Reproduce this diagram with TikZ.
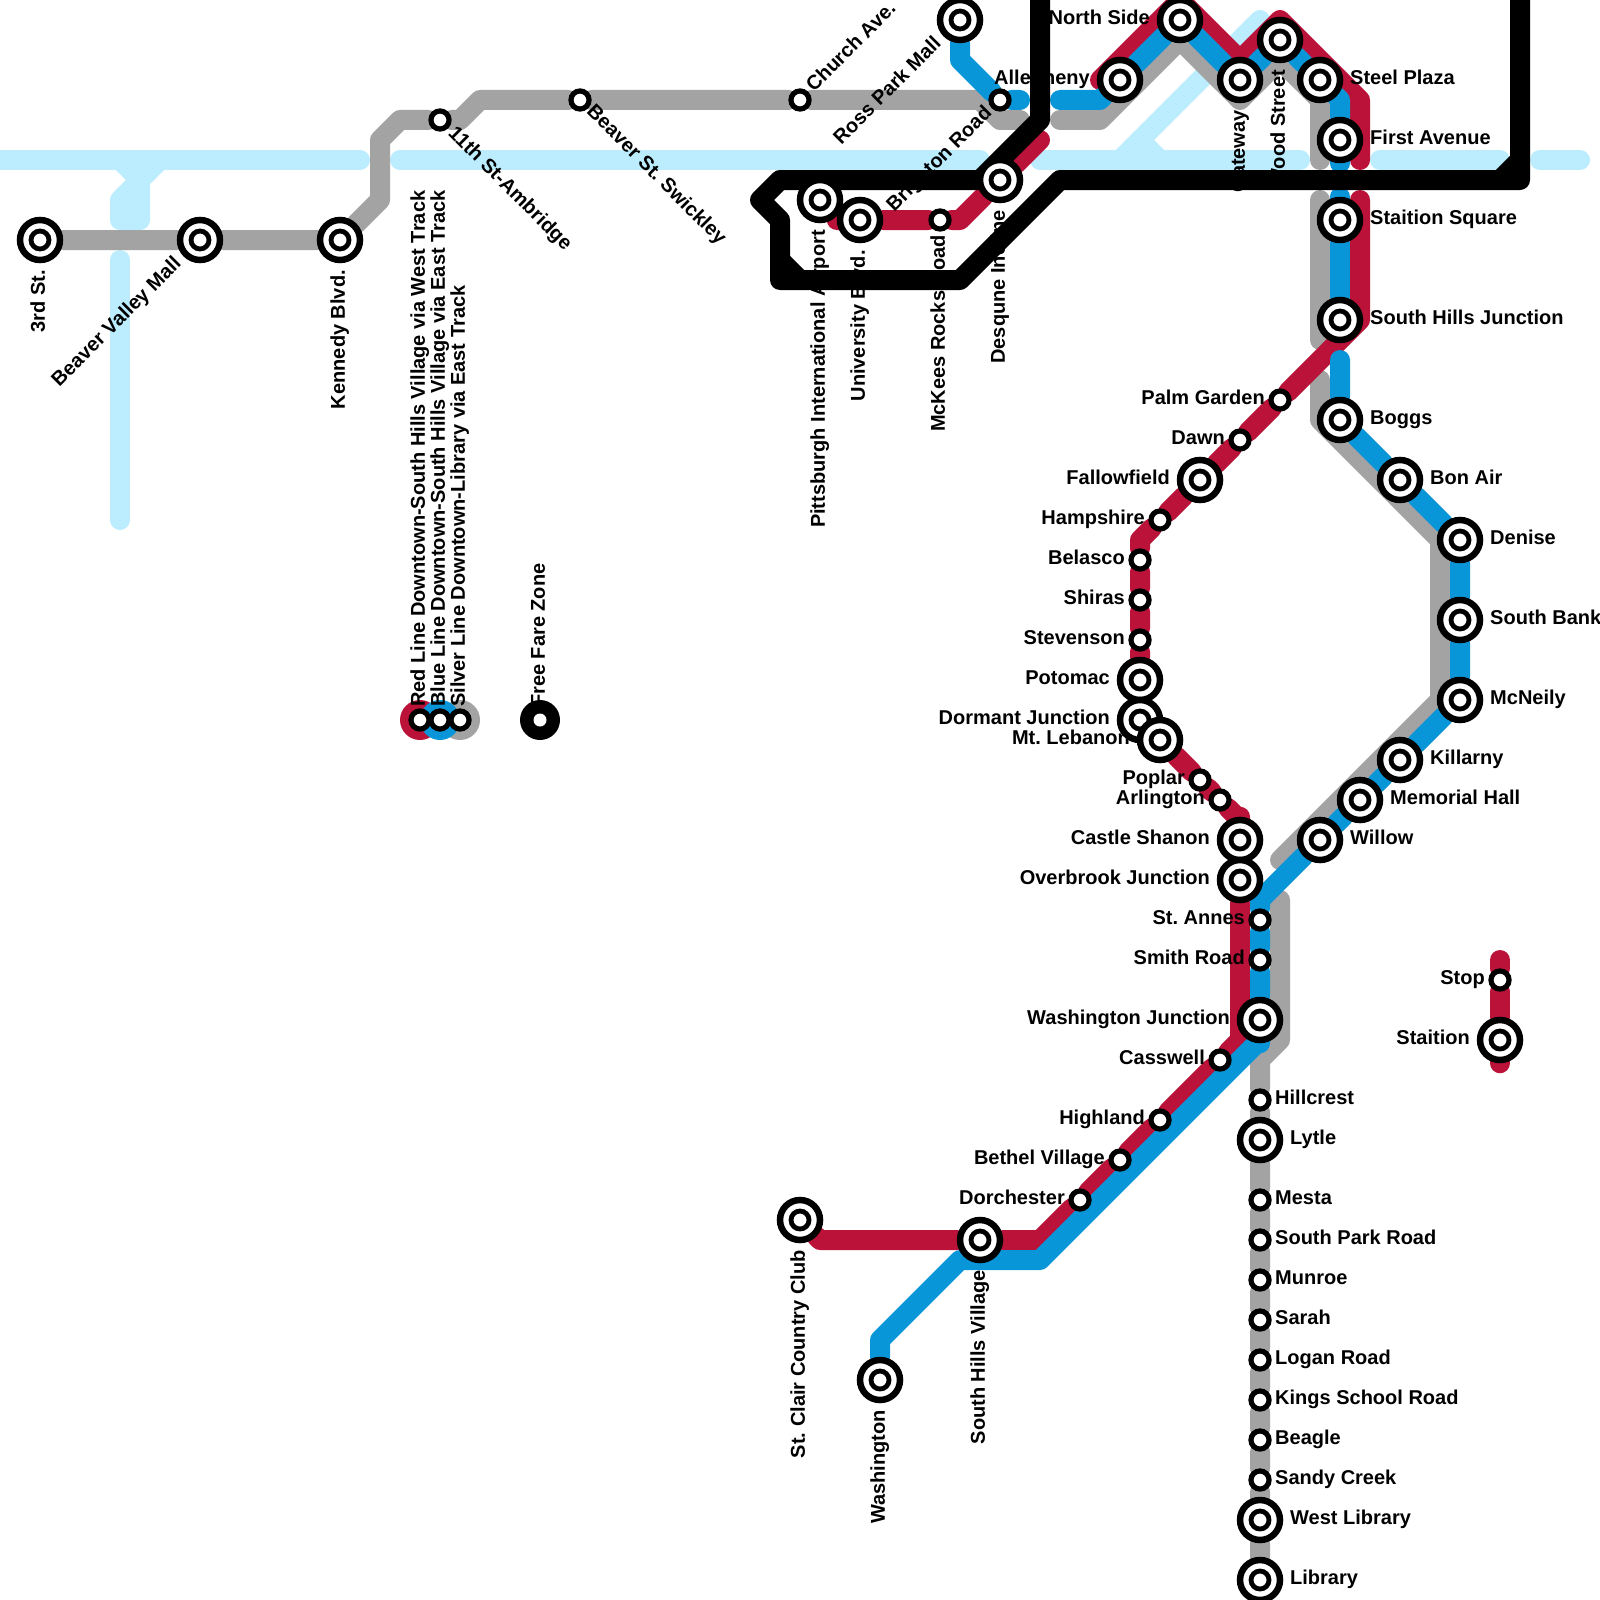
\documentclass[tikz,border=0pt]{standalone}
\usepackage{fontspec}
\setmainfont{Liberation Sans}
\frenchspacing
\definecolor{redln}{RGB}{186,18,56}
\definecolor{blueln}{RGB}{9,150,216}
\definecolor{grayln}{RGB}{163,163,163}
\definecolor{rivr}{RGB}{187,237,255}
\pgfdeclarelayer{rail}
\pgfdeclarelayer{names}
\pgfdeclarelayer{blk}
\pgfsetlayers{rail,names,blk,main}
\tikzset{
    lnbase/.style={line width=20pt, line cap=round, line join=round},
    water/.style={lnbase, rivr},
    redrun/.style={lnbase, redln},
    bluerun/.style={lnbase, blueln},
    grayrun/.style={lnbase, grayln},
    blackrun/.style={lnbase, black},
    stn/.style={circle, draw, fill=white, line width=5.2pt, minimum size=18.1pt, inner sep=0pt},
    bigstn/.style={circle, draw, fill=white, line width=6.5pt, minimum size=40pt, inner sep=0pt,
        path picture={\draw[line width=4.8pt] (path picture bounding box.center) circle (9pt);}},
    fareblob/.style={circle, fill=black, minimum size=40pt, inner sep=0pt,
        path picture={\fill[white] (path picture bounding box.center) circle (6.5pt);}},
    legdot/.style={circle, fill=#1, minimum size=40pt, inner sep=0pt},
    lbltail/.style 2 args={anchor=base east, inner sep=0pt, rotate=#1, xshift=-#2, yshift=-4.8pt},
    lblhead/.style 2 args={anchor=base west, inner sep=0pt, rotate=#1, xshift=#2, yshift=-4.8pt},
}
\begin{document}
\begin{tikzpicture}[x=20pt, y=-20pt, font=\fontsize{20}{24}\selectfont\bfseries]
    \useasboundingbox (0,0) rectangle (80,80);
    % big stations
    \foreach \nm/\x/\y in {thirdst/2/12, beavermall/10/12, kennedy/17/12, rosspark/48/1, airport/41/10,
        university/43/11, desqune/50/9, allegheny/56/4, northside/59/1, gateway/62/4, woodst/64/2,
        steelplaza/66/4, firstave/67/7, square/67/11, shjunction/67/16, boggs/67/21, bonair/70/24,
        denise/73/27, southbank/73/31, mcneily/73/35, killarny/70/38, memorial/68/40, willow/66/42,
        fallowfield/60/24, potomac/57/34, dormant/57/36, lebanon/58/37, castle/62/42, overbrook/62/44,
        washjunction/63/51, stclair/40/61, shvillage/49/62, washington/44/69, lytle/63/57,
        westlibrary/63/76, library/63/79, staition/75/52}
        \node[bigstn] (\nm) at (\x,\y) {};
    % small stations
    \foreach \nm/\x/\y in {ambridge/22/6, swickley/29/5, church/40/5, brighton/50/5, mckees/47/11,
        palm/64/20, dawn/62/22, hampshire/58/26, belasco/57/28, shiras/57/30, stevenson/57/32,
        poplar/60/39, arlington/61/40, stannes/63/46, smithroad/63/48, casswell/61/53, highland/58/56,
        bethel/56/58, dorchester/54/60, hillcrest/63/55, mesta/63/60, southpark/63/62, munroe/63/64,
        sarah/63/66, logan/63/68, kings/63/70, beagle/63/72, sandy/63/74, stopst/75/49,
        legred/21/36, legblue/22/36, leggray/23/36}
        \node[stn] (\nm) at (\x,\y) {};
    \node[fareblob] (farezone) at (27,36) {};
    % bends of the lines
    \foreach \nm/\x/\y in {g1/19/10, g2/19/7, g3/20/6, g4/23/6, g5/24/5, g6/49/5, g7/50/6, g8/51/6,
        g9/53/6, g10/55/6, g11/59/2, g12/62/5, g13/64/3, g14/66/5, g15/66/8, g16/66/10, g17/66/17,
        g18/66/19, g19/66/21, g20/72/27, g21/72/35, g22/64/43, g23/64/45, g24/64/52, g25/63/53,
        b1/48/3, b2/51/5, b3/53/5, b4/55/5, b5/67/5, b6/67/8, b7/67/10, b8/67/18, b9/63/45, b10/63/52,
        b11/52/63, b12/48/63, b13/44/67,
        r1/42/11, r2/48/11, r3/52/7, r4/55/4, r5/59/0, r6/62/3, r7/64/1, r8/68/5, r9/68/8, r10/68/10,
        r11/68/16, r12/57/27, r13/62/41, r14/62/52, r15/52/62, r16/41/62, r17/75/48, r18/75/53,
        k1/52/0, k2/52/6, k3/49/9, k4/39/9, k5/38/10, k6/39/11, k7/39/14, k8/48/14, k9/53/9, k10/76/9,
        k11/76/0, k12/39/13, k13/40/14, k14/75/9, k15/76/8}
        \coordinate (\nm) at (\x,\y);

    \begin{pgfonlayer}{rail}
        % river
        \draw[water] (0,8) -- (18,8);
        \draw[water] (20,8) -- (49,8);
        \draw[water] (52,8) -- (65,8);
        \draw[water] (56,8) -- (63,1);
        \draw[water] (57,7) -- (58,8);
        \draw[water] (69,8) -- (75,8);
        \draw[water] (77,8) -- (79,8);
        \draw[water] (6,8) -- (7,9) -- (7,11) -- (6,11) -- (6,10) -- (8,8);
        \draw[water] (6,13) -- (6,26);
        % silver
        \draw[grayrun] (thirdst) -- (beavermall) -- (kennedy) -- (g1) -- (g2) -- (g3) -- (ambridge) -- (g4) -- (g5)
            -- (swickley) -- (church) -- (g6) -- (g7) -- (g8);
        \draw[grayrun] (g9) -- (g10) -- (g11) -- (g12) -- (g13) -- (g14) -- (g15);
        \draw[grayrun] (g16) -- (g17);
        \draw[grayrun] (g18) -- (g19) -- (g20) -- (g21) -- (g22);
        \draw[grayrun] (g23) -- (g24) -- (g25) -- (hillcrest) -- (lytle) -- (mesta) -- (southpark) -- (munroe)
            -- (sarah) -- (logan) -- (kings) -- (beagle) -- (sandy) -- (westlibrary) -- (library);
        % red
        \draw[redrun] (airport) -- (r1) -- (university) -- (mckees) -- (r2) -- (desqune) -- (r3);
        \draw[redrun] (r4) -- (r5) -- (r6) -- (r7) -- (r8) -- (r9);
        \draw[redrun] (r10) -- (r11) -- (palm) -- (dawn) -- (fallowfield) -- (hampshire) -- (r12) -- (belasco)
            -- (shiras) -- (stevenson) -- (potomac) -- (dormant) -- (lebanon) -- (poplar) -- (arlington) -- (r13)
            -- (castle) -- (overbrook) -- (r14) -- (casswell) -- (highland) -- (bethel) -- (dorchester) -- (r15)
            -- (shvillage) -- (r16) -- (stclair);
        \draw[redrun] (r17) -- (stopst) -- (staition) -- (r18);
        % blue
        \draw[bluerun] (rosspark) -- (b1) -- (brighton) -- (b2);
        \draw[bluerun] (b3) -- (b4) -- (allegheny) -- (northside) -- (gateway) -- (woodst) -- (steelplaza) -- (b5)
            -- (firstave) -- (b6);
        \draw[bluerun] (b7) -- (square) -- (shjunction);
        \draw[bluerun] (b8) -- (boggs) -- (bonair) -- (denise) -- (southbank) -- (mcneily) -- (killarny)
            -- (memorial) -- (willow) -- (b9) -- (stannes) -- (smithroad) -- (washjunction) -- (b10) -- (b11)
            -- (b12) -- (b13) -- (washington);
        % legend dots
        \node[legdot=redln] (dotred) at (legred) {};
        \node[legdot=grayln] (dotgray) at (leggray) {};
        \node[legdot=blueln] (dotblue) at (legblue) {};
    \end{pgfonlayer}

    \begin{pgfonlayer}{names}
        \foreach \nm/\txt in {steelplaza/Steel Plaza, firstave/First Avenue, square/Staition Square,
            shjunction/South Hills Junction, boggs/Boggs, bonair/Bon Air, denise/Denise, southbank/South Bank,
            mcneily/McNeily, killarny/Killarny, memorial/Memorial Hall, willow/Willow, lytle/Lytle,
            westlibrary/West Library, library/Library}
            \node[lblhead={0}{30pt}] (\nm lbl) at (\nm) {\txt};
        \foreach \nm/\txt in {hillcrest/Hillcrest, mesta/Mesta, southpark/South Park Road, munroe/Munroe,
            sarah/Sarah, logan/Logan Road, kings/Kings School Road, beagle/Beagle, sandy/Sandy Creek}
            \node[lblhead={0}{15pt}] (\nm lbl) at (\nm) {\txt};
        \foreach \nm/\txt in {allegheny/Allegheny, northside/North Side, fallowfield/Fallowfield, potomac/Potomac,
            dormant/Dormant Junction, lebanon/Mt. Lebanon, castle/Castle Shanon, overbrook/Overbrook Junction,
            washjunction/Washington Junction, staition/Staition}
            \node[lbltail={0}{30pt}] (\nm lbl) at (\nm) {\txt};
        \foreach \nm/\txt in {palm/Palm Garden, dawn/Dawn, hampshire/Hampshire, belasco/Belasco, shiras/Shiras,
            stevenson/Stevenson, poplar/Poplar, arlington/Arlington, stannes/St. Annes, smithroad/Smith Road,
            casswell/Casswell, highland/Highland, bethel/Bethel Village, dorchester/Dorchester, stopst/Stop}
            \node[lbltail={0}{15pt}] (\nm lbl) at (\nm) {\txt};
        \foreach \nm/\txt in {thirdst/3rd St., kennedy/Kennedy Blvd., airport/Pittsburgh International Airport,
            university/University Blvd., desqune/Desqune Incline, gateway/Gateway, woodst/Wood Street,
            stclair/St. Clair Country Club, shvillage/South Hills Village, washington/Washington}
            \node[lbltail={90}{30pt}] (\nm lbl) at (\nm) {\txt};
        \node[lbltail={90}{15pt}] (mckeeslbl) at (mckees) {McKees Rocks Road};
        \foreach \nm/\txt in {legred/Red Line Downtown-South Hills Village via West Track,
            legblue/Blue Line Downtown-South Hills Village via East Track,
            leggray/Silver Line Downtown-Library via East Track, farezone/Free Fare Zone}
            \node[lblhead={90}{13pt}] (\nm lbl) at (\nm) {\txt};
        \node[lbltail={45}{30pt}] (beavermalllbl) at (beavermall) {Beaver Valley Mall};
        \node[lbltail={45}{30pt}] (rossparklbl) at (rosspark) {Ross Park Mall};
        \node[lbltail={45}{15pt}] (brightonlbl) at (brighton) {Brighton Road};
        \node[lblhead={45}{15pt}] (churchlbl) at (church) {Church Ave.};
        \node[lblhead={-45}{15pt}] (ambridgelbl) at (ambridge) {11th St-Ambridge};
        \node[lblhead={-45}{13pt}] (swickleylbl) at (swickley) {Beaver St. Swickley};
    \end{pgfonlayer}

    \begin{pgfonlayer}{blk}
        % free fare loop
        \draw[blackrun] (k1) -- (k2) -- (k3) -- (k4) -- (k5) -- (k6) -- (k7) -- (k8) -- (k9) -- (k10) -- (k11);
        \draw[blackrun] (k12) -- (k13);
        \draw[blackrun] (k14) -- (k15);
    \end{pgfonlayer}
\end{tikzpicture}
\end{document}
